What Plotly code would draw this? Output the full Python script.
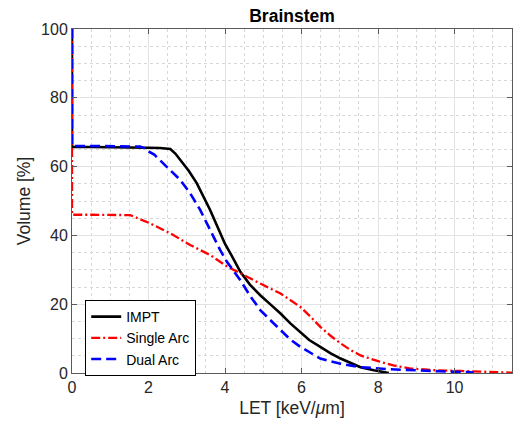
import plotly.graph_objects as go

# LET-volume histogram values for the brainstem
impt_let = [0, 0, 0.5, 1.0, 1.5, 2.0, 2.3, 2.57, 2.7, 2.83, 3.05, 3.26, 3.45, 3.61, 3.75,
            3.87, 4.0, 4.14, 4.4, 4.65, 4.92, 5.2, 5.45, 5.7, 5.97, 6.2, 6.49, 6.75,
            7.02, 7.3, 7.54, 7.89, 8.1, 8.28]
impt_vol = [100, 65.7, 65.7, 65.7, 65.6, 65.5, 65.4, 65.1, 63.8, 61.9, 58.8, 55.2, 51.2,
            47.4, 43.8, 40.6, 37.5, 34.8, 29.4, 25.7, 22.6, 19.8, 17.3, 14.5, 11.9, 9.6,
            7.6, 5.8, 4.2, 2.8, 1.7, 0.8, 0.3, 0]

single_let = [0, 0, 0.5, 1.0, 1.52, 2.04, 2.57, 3.09, 3.61, 4.05, 4.4, 4.92, 5.45, 5.97,
              6.23, 6.49, 6.75, 7.02, 7.28, 7.54, 7.98, 8.4, 8.85, 9.5, 10.16, 10.8, 11.5]
single_vol = [100, 46, 46, 46, 45.9, 43.5, 40.6, 37.2, 34.3, 31.0, 28.9, 26, 23.1, 19.2,
              16.4, 13.4, 10.9, 8.6, 6.7, 5.1, 3.5, 2.2, 1.3, 0.8, 0.6, 0.3, 0.1]

dual_let = [0, 0, 0.5, 1.0, 1.5, 1.78, 1.9, 2.0, 2.15, 2.39, 2.6, 2.83, 3.09, 3.35, 3.61,
            3.87, 4.05, 4.4, 4.65, 4.92, 5.2, 5.45, 5.7, 5.97, 6.23, 6.49, 7.02, 7.54,
            8.3, 8.85, 9.6, 10.4, 10.5]
dual_vol = [100, 66, 66, 66, 65.9, 65.8, 65.3, 64.4, 63.5, 61, 58.6, 56.1, 52.2, 47.4,
            41.6, 35.8, 32.3, 27, 22.5, 18.3, 15.2, 12.4, 9.8, 7.6, 5.8, 4.2, 2.7, 1.7,
            1.1, 0.8, 0.5, 0.2, 0.1]

x_ticks = [0, 2, 4, 6, 8, 10]
y_ticks = [0, 20, 40, 60, 80, 100]

FONT = "Liberation Sans, Arial, Helvetica, sans-serif"
AXIS_COLOR = "#5a5a5a"
TEXT_COLOR = "#262626"

fig = go.Figure()
fig.add_trace(go.Scatter(x=impt_let, y=impt_vol, mode="lines", name="IMPT",
                         line=dict(color="black", width=2.6)))
fig.add_trace(go.Scatter(x=single_let, y=single_vol, mode="lines", name="Single Arc",
                         line=dict(color="#ff0000", width=2.3, dash="9px,3px,2px,3px")))
fig.add_trace(go.Scatter(x=dual_let, y=dual_vol, mode="lines", name="Dual Arc",
                         line=dict(color="#0000ff", width=2.6, dash="10px,5px")))

axis_common = dict(
    showline=True, linecolor=AXIS_COLOR, linewidth=1, mirror="ticks",
    ticks="inside", ticklen=5, tickcolor=AXIS_COLOR,
    showgrid=True, gridcolor="#e3e3e3", gridwidth=1,
    zeroline=False,
    tickfont=dict(family=FONT, size=16, color=TEXT_COLOR),
)

fig.update_xaxes(
    range=[0, 11.5], tickvals=x_ticks,
    title=dict(text="LET [keV/<i>μ</i>m]", font=dict(family=FONT, size=17.5, color=TEXT_COLOR),
               standoff=6),
    minor=dict(dtick=0.5, showgrid=True, gridcolor="#d8d8d8", griddash="dot", ticks=""),
    **axis_common,
)
fig.update_yaxes(
    range=[0, 100], tickvals=y_ticks,
    title=dict(text="Volume [%]", font=dict(family=FONT, size=17.5, color=TEXT_COLOR),
               standoff=5),
    minor=dict(dtick=5, showgrid=True, gridcolor="#d8d8d8", griddash="dot", ticks=""),
    **axis_common,
)

fig.update_layout(
    width=520, height=427,
    margin=dict(l=72, r=8, t=29, b=54),
    paper_bgcolor="white", plot_bgcolor="white",
    title=dict(text="<b>Brainstem</b>", x=0.5, xref="paper", xanchor="center",
               y=1 - 16 / 427, yanchor="middle", yref="container",
               font=dict(family=FONT, size=17.5, color="black")),
    legend=dict(x=0.03, y=0.212, xanchor="left", yanchor="top",
                bgcolor="white", bordercolor="black", borderwidth=1,
                font=dict(family=FONT, size=14, color="black"),
                tracegroupgap=0, itemwidth=30),
    showlegend=True,
)

fig.write_html("out.html")
